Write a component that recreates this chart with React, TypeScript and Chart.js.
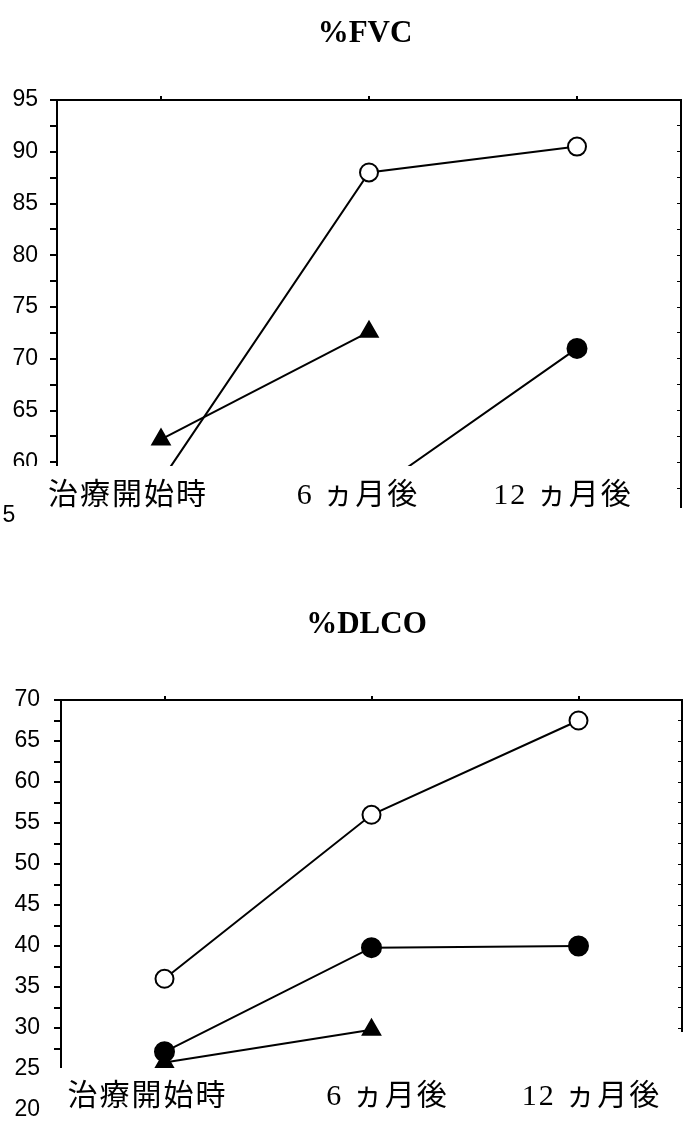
import React, { useEffect, useRef } from "react";
import { Chart, registerables } from "chart.js";

Chart.register(...registerables);

// ---- data ----
const CATEGORIES = ["治療開始時", "6 ヵ月後", "12 ヵ月後"];

const FVC_TITLE = "%FVC";
const FVC_OPEN = [58.2, 88.0, 90.5];
const FVC_FILLED = [56.0, 56.9, 71.0];
const FVC_TRIANGLE = [62.2, 72.6, null];
const FVC_Y_MIN = 55;
const FVC_Y_MAX = 95;

const DLCO_TITLE = "%DLCO";
const DLCO_OPEN = [36.0, 56.0, 67.5];
const DLCO_FILLED = [27.1, 39.8, 40.0];
const DLCO_TRIANGLE = [25.8, 29.8, null];
const DLCO_Y_MIN = 20;
const DLCO_Y_MAX = 70;

const TICK_STEP = 2.5;
const LABEL_STEP = 5;

type Spec = {
  title: string;
  open: (number | null)[];
  filled: (number | null)[];
  triangle: (number | null)[];
  yMin: number;
  yMax: number;
  canvasH: number;
  leftW: number;
  rightW: number;
  topH: number;
  bottomPad: number;
  tickPad: number;
  maskLeft: number;
  maskTop: number;
  maskRight: number;
  rightEnd: number;
  labelY: number;
  labelShift: number[];
  titleY: number;
  titleDx: number;
  stray?: { text: string; x: number; y: number };
};

function noPad(sc: any) {
  sc.paddingTop = 0;
  sc.paddingBottom = 0;
  sc.paddingLeft = 0;
  sc.paddingRight = 0;
}

function makeOverlay(s: Spec) {
  return {
    id: "overlay",
    afterDraw(chart: any) {
      const { ctx, chartArea, width, height } = chart;
      const xs = chart.scales.x;
      ctx.save();
      ctx.fillStyle = "#ffffff";
      ctx.fillRect(s.maskLeft, s.maskTop, s.maskRight - s.maskLeft, height - s.maskTop);
      ctx.fillRect(s.maskRight, s.rightEnd, width - s.maskRight, height - s.rightEnd);
      ctx.fillStyle = "#000000";
      ctx.font = 'bold 31px "Liberation Serif", serif';
      ctx.textAlign = "center";
      ctx.textBaseline = "alphabetic";
      ctx.fillText(s.title, (chartArea.left + chartArea.right) / 2 + s.titleDx, s.titleY);
      ctx.font = '30px "Liberation Serif", "Noto Sans CJK JP", serif';
      ctx.textBaseline = "middle";
      try {
        (ctx as any).letterSpacing = "2px";
      } catch (e) {}
      CATEGORIES.forEach((c, i) => {
        ctx.fillText(c, xs.getPixelForValue(i) + s.labelShift[i], s.labelY);
      });
      try {
        (ctx as any).letterSpacing = "0px";
      } catch (e) {}
      if (s.stray) {
        ctx.font = '23px "Liberation Sans", sans-serif';
        ctx.fillText(s.stray.text, s.stray.x, s.stray.y);
      }
      ctx.restore();
    },
  };
}

function makeConfig(s: Spec): any {
  const base = {
    borderColor: "#000",
    borderWidth: 2,
    pointBorderColor: "#000",
    pointBorderWidth: 2,
    pointRadius: 9,
    pointHoverRadius: 9,
  };
  const yTicksCb = (v: any) => (Math.abs(v % LABEL_STEP) < 1e-6 ? String(v) : "");
  return {
    type: "line",
    data: {
      labels: CATEGORIES,
      datasets: [
        { ...base, label: "open", data: s.open, pointStyle: "circle", pointBackgroundColor: "#fff", backgroundColor: "#fff" },
        { ...base, label: "filled", data: s.filled, pointStyle: "circle", pointRadius: 9.5, pointBackgroundColor: "#000", backgroundColor: "#000" },
        { ...base, label: "triangle", data: s.triangle, pointStyle: "triangle", pointRadius: 10, pointBackgroundColor: "#000", backgroundColor: "#000" },
      ],
    },
    options: {
      animation: false,
      responsive: false,
      events: [],
      layout: { autoPadding: false, padding: { top: 0, left: 0, right: 0, bottom: s.bottomPad } },
      plugins: { legend: { display: false }, title: { display: false }, tooltip: { enabled: false } },
      scales: {
        x: { type: "category", display: false, offset: true, afterFit: noPad },
        x2: {
          type: "category",
          labels: CATEGORIES,
          position: "top",
          offset: true,
          grid: { display: true, offset: false, drawOnChartArea: false, drawTicks: true, tickLength: 4, color: "#000", lineWidth: 2 },
          border: { display: true, color: "#000", width: 2 },
          ticks: { display: false },
          afterFit: (sc: any) => {
            sc.height = s.topH;
            noPad(sc);
          },
        },
        y: {
          type: "linear",
          position: "left",
          min: s.yMin,
          max: s.yMax,
          grid: { display: true, drawOnChartArea: false, drawTicks: true, tickLength: 7, color: "#000", lineWidth: 2 },
          border: { display: true, color: "#000", width: 2 },
          ticks: {
            stepSize: TICK_STEP,
            autoSkip: false,
            padding: s.tickPad,
            color: "#000",
            font: { family: '"Liberation Sans", Arial, sans-serif', size: 23 },
            callback: yTicksCb,
          },
          afterFit: (sc: any) => {
            sc.width = s.leftW;
            noPad(sc);
          },
        },
        y2: {
          type: "linear",
          position: "right",
          min: s.yMin,
          max: s.yMax,
          grid: { display: true, drawOnChartArea: false, drawTicks: true, tickLength: -4, color: "#000", lineWidth: 1 },
          border: { display: true, color: "#000", width: 2 },
          ticks: { display: false, stepSize: TICK_STEP, autoSkip: false },
          afterFit: (sc: any) => {
            sc.width = s.rightW;
            noPad(sc);
          },
        },
      },
    },
    plugins: [makeOverlay(s)],
  };
}

const FVC_SPEC: Spec = {
  title: FVC_TITLE,
  open: FVC_OPEN,
  filled: FVC_FILLED,
  triangle: FVC_TRIANGLE,
  yMin: FVC_Y_MIN,
  yMax: FVC_Y_MAX,
  canvasH: 540,
  leftW: 57,
  rightW: 3,
  topH: 100,
  bottomPad: 26,
  tickPad: 12,
  maskLeft: 13,
  maskTop: 466,
  maskRight: 676,
  rightEnd: 508,
  labelY: 496,
  labelShift: [-33, -11, -14],
  titleY: 42,
  titleDx: -4,
  stray: { text: "5", x: 9, y: 516 },
};

const DLCO_SPEC: Spec = {
  title: DLCO_TITLE,
  open: DLCO_OPEN,
  filled: DLCO_FILLED,
  triangle: DLCO_TRIANGLE,
  yMin: DLCO_Y_MIN,
  yMax: DLCO_Y_MAX,
  canvasH: 584,
  leftW: 61,
  rightW: 2,
  topH: 160,
  bottomPad: 14,
  tickPad: 14,
  maskLeft: 44,
  maskTop: 528,
  maskRight: 677,
  rightEnd: 492,
  labelY: 557,
  labelShift: [-17, 16, 13],
  titleY: 93,
  titleDx: -5,
};

function Panel({ spec }: { spec: Spec }) {
  const ref = useRef<HTMLCanvasElement | null>(null);
  useEffect(() => {
    if (!ref.current) return;
    const chart = new Chart(ref.current, makeConfig(spec));
    return () => chart.destroy();
  }, [spec]);
  return (
    <canvas
      ref={ref}
      width={684}
      height={spec.canvasH}
      style={{ display: "block", width: 684, height: spec.canvasH }}
    />
  );
}

export default function App() {
  useEffect(() => {
    document.body.style.margin = "0";
    document.body.style.background = "#fff";
  }, []);
  return (
    <div style={{ position: "absolute", left: 0, top: 0, width: 684, height: 1124, background: "#fff" }}>
      <Panel spec={FVC_SPEC} />
      <Panel spec={DLCO_SPEC} />
    </div>
  );
}
